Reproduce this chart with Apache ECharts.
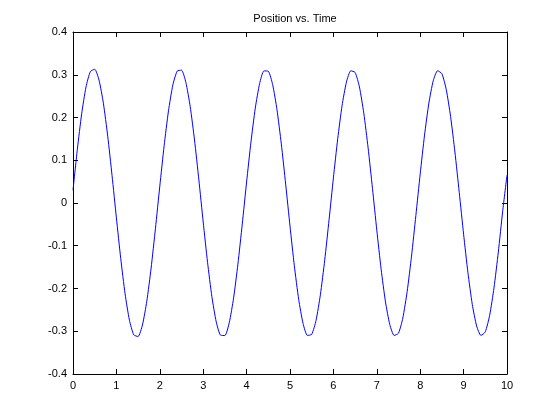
<!DOCTYPE html>
<html>
<head>
<meta charset="utf-8">
<script src="https://cdn.jsdelivr.net/npm/echarts@6/dist/echarts.min.js"></script>
<style>html,body{margin:0;padding:0;background:#fff;}#c{width:560px;height:420px;}</style>
</head>
<body>
<div id="c"></div>
<script>
var titleText = "Position vs. Time";
var timeStep = 0.1;
var xTicks = [0,1,2,3,4,5,6,7,8,9,10];
var yTicks = [-0.4,-0.3,-0.2,-0.1,0,0.1,0.2,0.3,0.4];
// position values, t = 0, 0.1, ..., 10
var position = [
 0.0298, 0.1255, 0.2088, 0.2717, 0.3074, 0.3128, 0.2874, 0.2335, 0.1565, 0.0641,
-0.0347,-0.1300,-0.2125,-0.2740,-0.3084,-0.3123,-0.2853,-0.2301,-0.1522,-0.0592,
 0.0395, 0.1341, 0.2155, 0.2757, 0.3084, 0.3107, 0.2823, 0.2260, 0.1474, 0.0542,
-0.0444,-0.1386,-0.2191,-0.2778,-0.3092,-0.3100,-0.2801,-0.2225,-0.1430,-0.0493,
 0.0492, 0.1425, 0.2219, 0.2793, 0.3090, 0.3082, 0.2770, 0.2183, 0.1381, 0.0442,
-0.0540,-0.1469,-0.2253,-0.2814,-0.3097,-0.3073,-0.2746,-0.2147,-0.1337,-0.0393,
 0.0587, 0.1508, 0.2280, 0.2827, 0.3093, 0.3054, 0.2714, 0.2104, 0.1287, 0.0343,
-0.0635,-0.1551,-0.2313,-0.2846,-0.3099,-0.3044,-0.2689,-0.2068,-0.1242,-0.0294,
 0.0682, 0.1589, 0.2339, 0.2858, 0.3094, 0.3024, 0.2655, 0.2024, 0.1193, 0.0244,
-0.0730,-0.1631,-0.2371,-0.2876,-0.3098,-0.3012,-0.2629,-0.1987,-0.1147,-0.0195,
 0.0650
];
var seriesData = position.map(function(v,i){ return [+(i*timeStep).toFixed(1), v]; });

var font = "'Liberation Sans', Arial, Helvetica, sans-serif";
var axisLineStyle = {show:true, onZero:false, lineStyle:{color:'#000', width:1}};
var tickStyle = {show:true, inside:true, length:5, lineStyle:{color:'#000', width:1}};
function fmt(v){ var r = Math.round(v*10)/10; return r === 0 ? '0' : String(r); }

var xMin = xTicks[0], xMax = xTicks[xTicks.length-1];
var yMin = yTicks[0], yMax = yTicks[yTicks.length-1];

var chart = echarts.init(document.getElementById('c'), null, {renderer:'canvas'});
chart.setOption({
  animation:false,
  backgroundColor:'#fff',
  title:{text:titleText, left:290, textAlign:'center', top:8,
    textStyle:{fontFamily:font, fontSize:11, fontWeight:'normal', color:'#000'}},
  grid:{left:73, right:53, top:32, bottom:46, containLabel:false},
  xAxis:[
    {type:'value', min:xMin, max:xMax, interval:1, position:'bottom',
     axisLine:axisLineStyle, axisTick:tickStyle, splitLine:{show:false},
     axisLabel:{show:true, margin:6, color:'#000', fontFamily:font, fontSize:11, formatter:fmt}},
    {type:'value', min:xMin, max:xMax, interval:1, position:'top',
     axisLine:axisLineStyle, axisTick:tickStyle, splitLine:{show:false},
     axisLabel:{show:false}}
  ],
  yAxis:[
    {type:'value', min:yMin, max:yMax, interval:0.1, position:'left',
     axisLine:axisLineStyle, axisTick:tickStyle, splitLine:{show:false},
     axisLabel:{show:true, margin:6, color:'#000', fontFamily:font, fontSize:11, formatter:fmt}},
    {type:'value', min:yMin, max:yMax, interval:0.1, position:'right',
     axisLine:axisLineStyle, axisTick:tickStyle, splitLine:{show:false},
     axisLabel:{show:false}}
  ],
  series:[{
    type:'line', data:seriesData, xAxisIndex:0, yAxisIndex:0,
    showSymbol:false, symbol:'none', smooth:0.2,
    lineStyle:{color:'#0000ff', width:1}
  }]
});
</script>
</body>
</html>
